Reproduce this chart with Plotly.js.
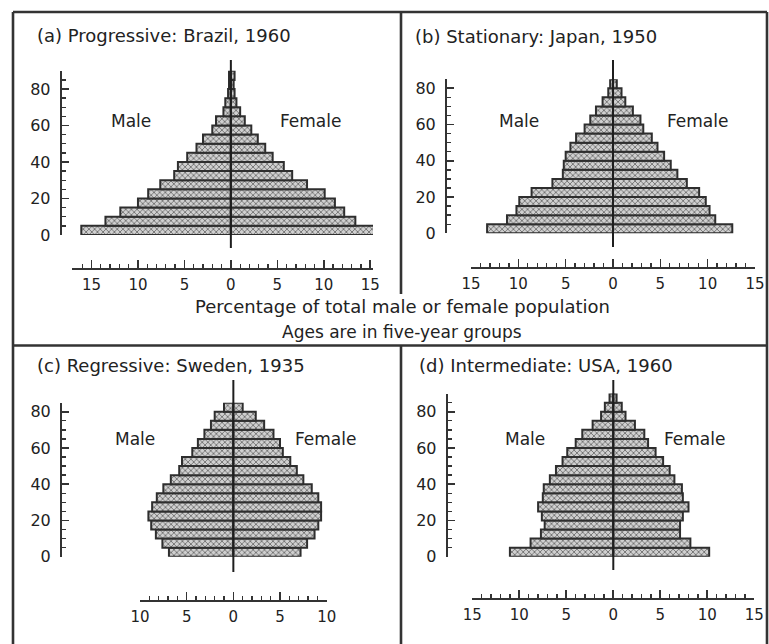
<!DOCTYPE html>
<html>
<head>
<meta charset="utf-8">
<script src="https://cdn.plot.ly/plotly-3.0.1.min.js"></script>
<style>html,body{margin:0;padding:0;background:#fff;}#chart{width:769px;height:644px;}</style>
</head>
<body>
<div id="chart"></div>
<script>
// ---------- DATA (percent of total male / female population) ----------
var ageStarts18 = [0,5,10,15,20,25,30,35,40,45,50,55,60,65,70,75,80,85];
var ageStarts17 = [0,5,10,15,20,25,30,35,40,45,50,55,60,65,70,75,80];

var brazilMale   = [16.1,13.5,11.9,10.0,8.9,7.6,6.1,5.7,4.7,3.7,3.0,2.0,1.6,0.8,0.6,0.3,0.2,0.2];
var brazilFemale = [16.0,13.4,12.2,11.2,10.1,8.2,6.6,5.7,4.5,3.7,2.9,2.2,1.5,1.0,0.6,0.4,0.3,0.4];

var japanMale    = [13.3,11.2,10.2,9.9,8.6,6.4,5.3,5.2,5.0,4.5,3.9,3.0,2.4,1.8,1.1,0.5,0.3];
var japanFemale  = [12.6,10.8,10.2,9.8,9.1,7.8,6.8,6.1,5.4,4.7,4.1,3.2,2.9,2.1,1.3,0.9,0.4];

var swedenMale   = [6.9,7.6,8.3,8.8,9.1,8.7,8.2,7.5,6.7,5.8,5.5,4.4,3.8,3.1,2.4,2.0,1.0];
var swedenFemale = [7.2,7.9,8.7,9.1,9.4,9.4,9.1,8.4,7.5,6.8,6.1,5.3,5.0,4.3,3.3,2.4,1.0];

var usaMale      = [11.0,8.8,7.7,7.3,7.6,8.0,7.5,7.4,6.75,6.1,5.4,4.9,4.0,3.3,2.2,1.3,0.9,0.4];
var usaFemale    = [10.2,8.2,7.1,7.1,7.4,8.0,7.4,7.3,6.5,6.0,5.3,4.5,3.7,3.3,2.3,1.3,0.9,0.35];

var panelTitles = ["(a) Progressive: Brazil, 1960", "(b) Stationary: Japan, 1950",
                   "(c) Regressive: Sweden, 1935", "(d) Intermediate: USA, 1960"];
var xTickAlias = {"−15":"15", "−10":"10", "−5":"5", "-15":"15", "-10":"10", "-5":"5"};
var yTicks   = [0,20,40,60,80];
var maleLabel = "Male", femaleLabel = "Female";
var noteLine1 = "Percentage of total male or female population";
var noteLine2 = "Ages are in five-year groups";

// ---------- LAYOUT HELPERS ----------
var W = 769, H = 644;
function fx(p){ return p / W; }
function fy(p){ return 1 - p / H; }
var FONT = "DejaVu Sans";
var INK = "#222222";

var panels = [
  {ages: ageStarts18, male: brazilMale, female: brazilFemale, xr:[-17.1,15.3], xd:[72,373], xline:268,
   ymax:90, y0:235, k:1.825, yax:60.7, cl:[60,248], tp:[35,35], mp:[131,121], fp:[310,121]},
  {ages: ageStarts17, male: japanMale, female: japanFemale, xr:[-15,15], xd:[471,755], xline:267,
   ymax:85, y0:233.3, k:1.8125, yax:446, cl:[60,247], tp:[413,37], mp:[519,121], fp:[697,121]},
  {ages: ageStarts17, male: swedenMale, female: swedenFemale, xr:[-10,10], xd:[140,326.7], xline:600,
   ymax:85, y0:556.7, k:1.8125, yax:61, cl:[380,572], tp:[35,365], mp:[135,439], fp:[325,439]},
  {ages: ageStarts18, male: usaMale, female: usaFemale, xr:[-15,15], xd:[472.3,754.3], xline:598.3,
   ymax:90, y0:556.7, k:1.8125, yax:446.7, cl:[380,570], tp:[417,365], mp:[525,439], fp:[694,439]}
];

var barMarker = {
  color: "#c8c8c8",
  line: {color: "#2e2e2e", width: 2},
  pattern: {shape: "x", fgcolor: "#707070", bgcolor: "#d0d0d0", size: 4, solidity: 0.4}
};

var traces = [];
var layout = {
  width: W, height: H,
  margin: {l:0, r:0, t:0, b:0},
  paper_bgcolor: "#ffffff", plot_bgcolor: "rgba(0,0,0,0)",
  showlegend: false, barmode: "overlay", bargap: 0,
  hovermode: false,
  font: {family: FONT, color: INK},
  annotations: [], shapes: []
};

panels.forEach(function(p, i){
  var n = i + 1;
  var xa = "x" + n, ya = "y" + n;
  var xKey = "xaxis" + (n === 1 ? "" : n), yKey = "yaxis" + (n === 1 ? "" : n);
  var yc = p.ages.map(function(a){ return a + 2.5; });
  traces.push({type:"bar", orientation:"h", y: yc, x: p.male.map(function(v){ return -v; }),
               width: 5, xaxis: xa, yaxis: ya, marker: barMarker, hoverinfo: "skip"});
  traces.push({type:"bar", orientation:"h", y: yc, x: p.female,
               width: 5, xaxis: xa, yaxis: ya, marker: barMarker, hoverinfo: "skip"});

  layout[xKey] = {
    domain: [fx(p.xd[0]), fx(p.xd[1])], range: p.xr, anchor: "free", position: fy(p.xline),
    showgrid: false, zeroline: false, showline: true, linecolor: "#333", linewidth: 1.8,
    tickmode: "linear", tick0: 0, dtick: 5, labelalias: xTickAlias,
    ticks: "inside", ticklen: 8, tickwidth: 1.6, tickcolor: "#333",
    minor: {tickmode: "linear", tick0: 0, dtick: 1, ticks: "inside", ticklen: 4, tickwidth: 1.3, tickcolor: "#333"},
    tickfont: {family: FONT, size: 15, color: INK}, ticklabelstandoff: 2, fixedrange: true
  };
  layout[yKey] = {
    domain: [fy(p.y0), fy(p.y0 - p.ymax * p.k)], range: [0, p.ymax], anchor: "free", position: fx(p.yax),
    showgrid: false, zeroline: false, showline: true, linecolor: "#333", linewidth: 2,
    tickmode: "array", tickvals: yTicks,
    ticks: "inside", ticklen: 7, tickwidth: 1.8, tickcolor: "#333",
    minor: {tickmode: "linear", tick0: 0, dtick: 5, ticks: "inside", ticklen: 4, tickwidth: 1.4, tickcolor: "#333"},
    tickfont: {family: FONT, size: 16, color: INK}, ticklabelstandoff: 6, fixedrange: true
  };
  // centre (zero) line
  layout.shapes.push({type:"line", xref: xa, yref:"paper", x0:0, x1:0, y0: fy(p.cl[1]), y1: fy(p.cl[0]),
                      line:{color:"#1e1e1e", width:2}});
  // titles and labels
  layout.annotations.push({text: panelTitles[i], xref:"paper", yref:"paper", x: fx(p.tp[0]), y: fy(p.tp[1]),
                           xanchor:"left", yanchor:"middle", showarrow:false, font:{family:FONT, size:18, color:INK}});
  layout.annotations.push({text: maleLabel, xref:"paper", yref:"paper", x: fx(p.mp[0]), y: fy(p.mp[1]),
                           xanchor:"center", yanchor:"middle", showarrow:false, font:{family:FONT, size:17, color:INK}});
  layout.annotations.push({text: femaleLabel, xref:"paper", yref:"paper", x: fx(p.fp[0]), y: fy(p.fp[1]),
                           xanchor:"center", yanchor:"middle", showarrow:false, font:{family:FONT, size:17, color:INK}});
});

layout.annotations.push({text: noteLine1, xref:"paper", yref:"paper", x: fx(402), y: fy(307),
                         xanchor:"center", yanchor:"middle", showarrow:false, font:{family:FONT, size:18, color:INK}});
layout.annotations.push({text: noteLine2, xref:"paper", yref:"paper", x: fx(402), y: fy(332),
                         xanchor:"center", yanchor:"middle", showarrow:false, font:{family:FONT, size:17, color:INK}});

// frame
var frameLine = {color:"#333", width:2.6};
[[13,12,767,12],[13,12,13,650],[767,12,767,650],[13,345.5,767,345.5],[401,12,401,294],[401,345.5,401,650]]
  .forEach(function(s){
    layout.shapes.push({type:"line", xref:"paper", yref:"paper", x0:fx(s[0]), y0:fy(s[1]), x1:fx(s[2]), y1:fy(s[3]), line: frameLine});
  });

Plotly.newPlot("chart", traces, layout, {staticPlot: true, displayModeBar: false});
</script>
</body>
</html>
